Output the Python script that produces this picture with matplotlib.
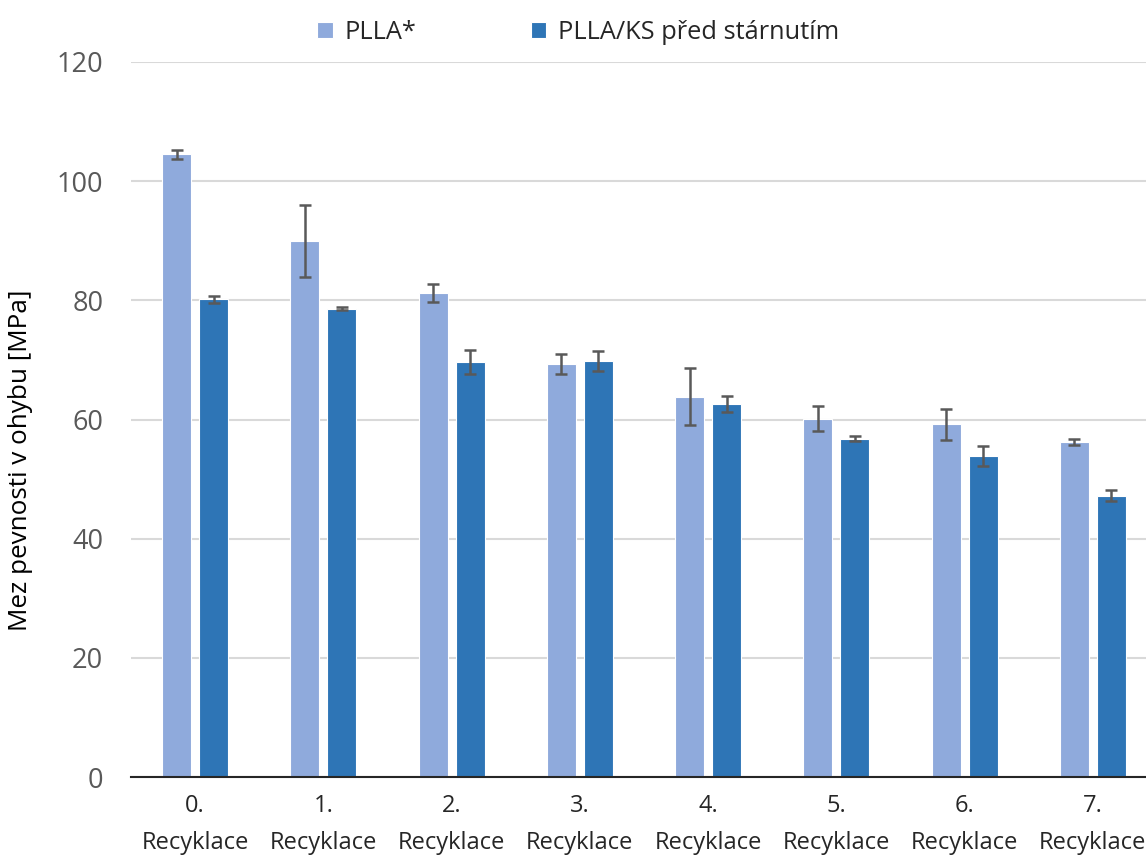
import matplotlib.pyplot as plt
import numpy as np

plt.rcParams['font.family'] = ['Open Sans', 'DejaVu Sans']

kategorie = ['0.\nRecyklace', '1.\nRecyklace', '2.\nRecyklace', '3.\nRecyklace',
             '4.\nRecyklace', '5.\nRecyklace', '6.\nRecyklace', '7.\nRecyklace']
plla = [104.5, 90.0, 81.2, 69.3, 63.8, 60.1, 59.2, 56.2]
plla_err = [0.7, 6.0, 1.5, 1.7, 4.8, 2.1, 2.6, 0.5]
plla_ks = [80.2, 78.6, 69.7, 69.8, 62.6, 56.8, 53.9, 47.2]
plla_ks_err = [0.6, 0.3, 2.0, 1.7, 1.4, 0.4, 1.7, 0.9]

fig = plt.figure(figsize=(11.46, 8.56), dpi=100)
ax = fig.add_axes([131/1146, 1 - 777/856, 1026/1146, (777 - 62)/856])

x = np.arange(len(kategorie))
w = 0.226
off = 0.144
err_kw = dict(ecolor='#595959', elinewidth=1.8, capsize=4.5, capthick=1.8)

ax.bar(x - off, plla, w, yerr=plla_err, color='#8FAADC', edgecolor='white',
       linewidth=0.8, error_kw=err_kw, label='PLLA*', zorder=3)
ax.bar(x + off, plla_ks, w, yerr=plla_ks_err, color='#2E75B6', edgecolor='white',
       linewidth=0.8, error_kw=err_kw, label='PLLA/KS před stárnutím', zorder=3)

ax.set_xlim(-0.5, len(kategorie) - 0.5)
ax.set_ylim(0, 120)
ax.set_yticks(np.arange(0, 121, 20))
ax.set_xticks(x)
ax.set_xticklabels(kategorie)
ax.grid(axis='y', color='#d9d9d9', linewidth=1.5, zorder=0)
ax.set_axisbelow(True)

for s in ['top', 'right', 'left']:
    ax.spines[s].set_visible(False)
ax.spines['bottom'].set_color('#262626')
ax.spines['bottom'].set_linewidth(1.5)
ax.spines['bottom'].set_zorder(4)
ax.tick_params(axis='y', length=0, labelsize=19.5, colors='#595959', pad=20)
ax.tick_params(axis='x', length=0, labelsize=17, colors='#262626', pad=12)
for t in ax.get_xticklabels():
    t.set_linespacing(1.75)

ax.set_ylabel('Mez pevnosti v ohybu [MPa]', fontsize=18.8, color='black')
ax.yaxis.set_label_coords(-0.0955, 0.443)

ax.legend(loc='lower center', bbox_to_anchor=(0.436, 0.992), ncol=2, frameon=False,
          fontsize=18.3, handlelength=0.6, handleheight=0.6, columnspacing=4.5,
          handletextpad=0.47, labelcolor='#262626')

fig.savefig('out.png', dpi=100)
